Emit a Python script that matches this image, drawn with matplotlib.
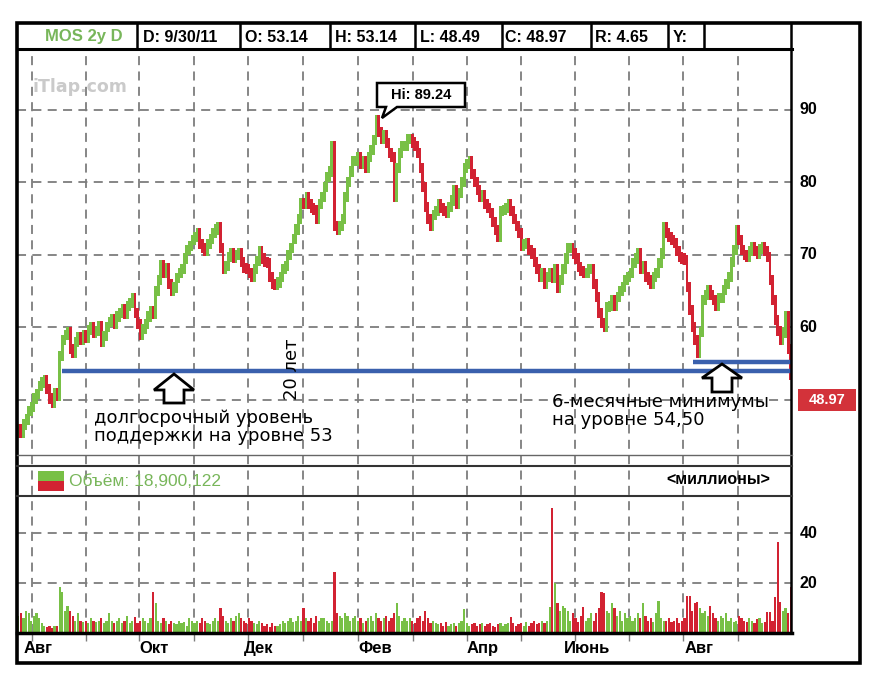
import matplotlib.pyplot as plt
from matplotlib.patches import Rectangle, Polygon
import numpy as np

# ---- data (daily bars, Aug 2010 - Sep 2011) ----
first_open = 45.5
close = [
    46.0, 45.4, 46.6, 47.3, 48.5, 49.0, 50.2, 50.8, 51.9, 52.4,
    52.8, 51.5, 50.2, 49.6, 50.9, 50.5, 56.0, 58.3, 58.9, 59.4,
    57.0, 56.5, 58.0, 58.6, 58.3, 59.0, 58.5, 59.7, 60.0, 59.2,
    59.5, 60.2, 58.0, 58.8, 60.0, 60.7, 61.2, 60.5, 61.5, 62.0,
    62.5, 61.8, 63.0, 63.4, 64.0, 62.0, 60.5, 59.0, 59.8, 60.5,
    61.5, 62.2, 61.8, 65.0, 66.5, 68.6, 67.5, 68.2, 66.0, 65.0,
    65.5, 66.8, 67.5, 68.0, 69.5, 70.7, 71.2, 72.0, 72.5, 73.0,
    71.5, 71.0, 70.5, 71.5, 72.2, 73.0, 73.5, 73.9, 71.0, 68.0,
    68.5, 69.7, 70.2, 69.6, 70.0, 70.3, 69.0, 68.2, 68.0, 67.5,
    67.0, 68.0, 69.2, 70.5, 69.5, 69.0, 68.9, 67.0, 66.0, 65.8,
    66.2, 67.0, 68.0, 68.5, 70.0, 71.0, 72.2, 73.5, 75.0, 77.2,
    77.0, 78.0, 77.0, 76.5, 76.2, 75.0, 77.0, 78.0, 79.4, 80.8,
    81.5, 85.0, 74.0, 73.5, 74.0, 75.0, 78.0, 80.0, 81.5, 83.0,
    83.0, 83.5, 82.5, 83.0, 82.0, 83.5, 84.5, 85.9, 88.6, 87.0,
    86.0, 86.5, 85.4, 84.0, 83.5, 78.0, 82.0, 84.0, 85.0, 85.0,
    86.0, 86.0, 85.5, 85.0, 84.0, 82.0, 79.4, 76.6, 75.0, 74.0,
    75.5, 76.0, 77.0, 76.5, 76.0, 75.8, 76.6, 77.5, 79.0, 77.0,
    78.5, 80.0, 82.0, 82.5, 83.0, 81.2, 80.0, 79.0, 78.0, 78.2,
    77.0, 76.5, 75.8, 74.5, 73.4, 72.5, 76.0, 76.2, 76.5, 77.0,
    76.0, 75.0, 74.0, 73.0, 71.2, 71.5, 71.6, 70.7, 70.2, 69.0,
    68.0, 67.0, 67.5, 66.0, 67.0, 67.5, 66.8, 68.0, 65.5, 66.5,
    68.0, 69.5, 71.0, 71.0, 70.2, 69.5, 68.3, 67.8, 67.5, 67.5,
    68.0, 68.0, 66.0, 64.2, 62.0, 60.6, 60.0, 62.8, 63.0, 63.8,
    63.0, 64.2, 65.0, 65.6, 66.5, 67.0, 67.5, 68.9, 69.5, 70.2,
    68.0, 68.5, 67.0, 66.5, 66.0, 67.0, 67.5, 68.9, 70.2, 73.9,
    73.0, 72.5, 72.0, 71.6, 70.5, 69.7, 69.5, 69.3, 65.6, 62.4,
    60.0, 58.3, 56.5, 59.4, 63.8, 64.5, 65.2, 64.5, 63.8, 63.0,
    64.0, 64.0, 65.2, 66.0, 67.0, 69.0, 70.7, 73.4, 72.0, 70.7,
    70.0, 69.7, 70.5, 71.1, 70.5, 70.2, 70.8, 71.1, 70.5, 69.7,
    66.5, 63.8, 61.0, 59.5, 58.3, 59.3, 61.5, 57.0, 53.5,
]
volume = [
    7, 8, 6, 9, 8, 5, 7, 8, 6, 4,
    3, 2.5, 3, 2, 3, 3, 18.5, 16.5, 9, 11,
    9, 7, 5, 8, 5, 4.5, 5, 4, 6, 5,
    4.5, 5, 6, 4, 5, 8, 5, 4, 5, 6,
    4, 5, 7, 4, 5, 6.5, 4, 5, 6, 5,
    4, 6, 16.5, 12, 5, 4, 6, 5, 3.5, 5,
    4, 3.5, 5, 4, 4.5, 3, 6, 5, 4, 5,
    4, 6, 5, 4, 3.5, 5, 6, 5, 10, 7,
    5, 4, 6, 5, 7, 8, 6, 5, 4, 6,
    5, 4, 3.5, 5, 4, 3, 3.5, 2.5, 4, 3,
    3, 3.5, 5, 4, 5, 6, 4.5, 5, 7, 5,
    10, 6, 5, 6, 4, 7, 5, 6, 6, 5,
    4, 5, 24.5, 8, 7, 6, 8, 7, 5, 6,
    7, 5, 6, 4, 5, 6, 7, 5, 8, 6,
    5, 6, 7, 5, 6, 8, 12, 7, 5, 6,
    5, 6, 5, 4, 6, 7, 5, 9, 6, 4,
    5, 4, 3.5, 4, 3, 4.5, 3, 3.5, 4, 3,
    4, 5, 9.5, 4, 3, 3.5, 4, 3, 3.5, 4,
    3, 3.5, 4, 3, 2.5, 3.5, 4, 3, 3.5, 4,
    6.5, 4, 3, 3.5, 4, 3, 4.5, 3, 4, 5,
    3.5, 4, 5, 4, 5, 10.5, 50, 20, 12, 9,
    11, 10, 9, 5, 8, 6, 4.5, 7, 10.5, 5,
    6, 8, 5, 8, 10, 16.5, 16, 9, 8, 12,
    10, 7, 9, 5, 8, 6, 7, 5, 6, 8,
    6, 12, 7, 5, 6, 4.5, 8, 13, 6, 5,
    5, 6, 4.5, 5, 6, 4, 5, 6, 15, 15,
    9, 12, 12.5, 10, 8, 9, 7, 11, 8, 6,
    5, 7, 6, 8, 5, 6, 4.5, 5, 7, 6,
    5, 4.5, 6, 5, 4, 5.5, 6, 4, 4.5, 8.5,
    8.5, 5, 14.5, 36.6, 12.5, 9, 10, 8, 18.5,
]
month_pos = [5.3, 26.1, 46.6, 67.8, 88.6, 109.8, 131.1, 152.3, 173.1,
             193.9, 214.8, 235.6, 256.4, 277.7]
month_names = ['Авг', 'Окт', 'Дек', 'Фев', 'Апр', 'Июнь', 'Авг']
month_label_pos = [7.6, 52.4, 92.9, 137.6, 179.3, 219.4, 262.6]
price_ticks = [90, 80, 70, 60]
vol_ticks = [40, 20]
header_labels = ['MOS 2y D', 'D: 9/30/11', 'O: 53.14', 'H: 53.14', 'L: 48.49',
                 'C: 48.97', 'R: 4.65', 'Y:']
hi_value = 89.24
last_close = 48.97
volume_total = '18,900,122'
support_long = 54.0
support_6m = 55.2
support_6m_start = 260.3

GREEN = '#78c046'
RED = '#d22232'
GRID = '#7d7d7d'
BLUE = '#3a60ad'

W, H = 880, 682
fig = plt.figure(figsize=(8.8, 6.82), dpi=100)


def add_ax(x0, y0, x1, y1, z=1):
    a = fig.add_axes([x0 / W, 1 - y1 / H, (x1 - x0) / W, (y1 - y0) / H])
    a.set_zorder(z)
    a.patch.set_alpha(0)
    a.axis('off')
    return a


n = len(close)
x = np.arange(n)
opens = np.array([first_open] + close[:-1])
closes = np.array(close)
cols = [GREEN if c >= o else RED for o, c in zip(opens, closes)]
XL = (-0.5, n - 0.5)

# background with the monthly vertical grid (runs through all panels)
bg = add_ax(17, 49, 792, 633, z=0)
bg.set_xlim(XL)
bg.set_ylim(0, 1)
bg.vlines(month_pos, 0, 1, colors=GRID, linewidth=1.3, linestyles=(0, (5, 3.5)))

# price panel
ax = add_ax(17, 49, 792, 455, z=2)
ax.set_xlim(XL)
ax.set_ylim(42.4, 98.4)
ax.hlines(price_ticks + [50], XL[0], XL[1], colors=GRID, linewidth=1.3,
          linestyles=(0, (5, 3.5)))
bot = np.minimum(opens, closes) - 0.7
hgt = np.abs(closes - opens) + 1.4
ax.bar(x, hgt, bottom=bot, width=1.1, color=cols, linewidth=0, zorder=3)
ax.hlines(support_long, 16.9, XL[1], colors=BLUE, linewidth=3.2, zorder=4)
ax.hlines(support_6m, support_6m_start, XL[1], colors=BLUE, linewidth=3.2, zorder=4)
for t in price_ticks:
    ax.text(1.01, t, str(t), transform=ax.get_yaxis_transform(), ha='left',
            va='center', fontsize=11.5, fontweight='bold', family='Liberation Sans')

# volume panel
vax = add_ax(17, 496, 792, 633, z=2)
vax.set_xlim(XL)
vax.set_ylim(0, 54.8)
vax.hlines(vol_ticks, XL[0], XL[1], colors=GRID, linewidth=1.3,
           linestyles=(0, (5, 3.5)))
vax.bar(x, volume, width=0.85, color=cols, linewidth=0, zorder=3)
for t in vol_ticks:
    vax.text(1.01, t, str(t), transform=vax.get_yaxis_transform(), ha='left',
             va='center', fontsize=11.5, fontweight='bold', family='Liberation Sans')
for p, m in zip(month_label_pos, month_names):
    vax.text(p, -0.11, m, transform=vax.get_xaxis_transform(), ha='center',
             va='center', fontsize=12, fontweight='bold', family='Liberation Sans')
vax.vlines(month_pos, -0.06, 0, colors=GRID, linewidth=1.0,
           transform=vax.get_xaxis_transform(), clip_on=False)

# overlay in pixel coordinates: frame, header, annotations
ov = fig.add_axes([0, 0, 1, 1])
ov.set_zorder(5)
ov.patch.set_alpha(0)
ov.axis('off')
ov.set_xlim(0, W)
ov.set_ylim(H, 0)

ov.add_patch(Rectangle((17, 23), 843, 640, fill=False, lw=2.6, ec='black'))
ov.plot([17, 792], [49, 49], color='black', lw=2.2)
for hx in [137, 240, 330, 415, 502, 591, 668, 704]:
    ov.plot([hx, hx], [23, 49], color='black', lw=1.8)
ov.plot([791, 791], [23, 633], color='black', lw=1.8)
ov.plot([17, 792], [455, 455], color='#666666', lw=1.0)
ov.plot([17, 792], [466, 466], color='#333333', lw=1.5)
ov.plot([17, 792], [496, 496], color='#333333', lw=1.5)
ov.plot([17, 792], [633, 633], color='black', lw=2.5)

hdr_x = [84, 143, 245, 335, 420, 505, 595, 673]
for i, (hx, lab) in enumerate(zip(hdr_x, header_labels)):
    ov.text(hx, 37, lab, ha='center' if i == 0 else 'left', va='center',
            fontsize=12 if i == 0 else 11.5, fontweight='bold',
            family='Liberation Sans', color='#78b65a' if i == 0 else 'black')

ov.text(32, 87, 'iTlap.com', ha='left', va='center', fontsize=12.5,
        fontweight='bold', color='#cacaca', family='DejaVu Sans')

# Hi callout
ov.add_patch(Polygon([(377, 83), (465, 83), (465, 107), (397, 107), (382, 118),
                      (386, 107), (377, 107)], closed=True, fc='white', ec='black',
                     lw=1.8, zorder=6))
ov.text(421, 95, f'Hi: {hi_value:.2f}', ha='center', va='center', fontsize=10.5,
        fontweight='bold', family='Liberation Sans', zorder=7)

# last price box
ov.add_patch(Rectangle((798, 389), 58, 22, fc='#d3323a', ec='none'))
ov.text(827, 400, f'{last_close:.2f}', ha='center', va='center', fontsize=10.5,
        fontweight='bold', color='white', family='Liberation Sans')


def up_arrow(cx, top, base, bottom):
    pts = [(cx, top), (cx + 20, base), (cx + 10, base), (cx + 10, bottom),
           (cx - 10, bottom), (cx - 10, base), (cx - 20, base)]
    ov.add_patch(Polygon(pts, closed=True, fc='white', ec='black', lw=2.0, zorder=6))


up_arrow(174, 374, 390, 403)
up_arrow(722, 364, 378, 392)

txt_kw = dict(fontsize=13, family='DejaVu Sans', color='black', linespacing=1.0)
ov.text(94, 409, 'долгосрочный уровень\nподдержки на уровне 53', ha='left',
        va='top', **txt_kw)
ov.text(552, 393, '6-месячные минимумы\nна уровне 54,50', ha='left', va='top',
        **txt_kw)
ov.text(292, 369, '20 лет', rotation=90, ha='center', va='center', **txt_kw)

# volume legend
ov.add_patch(Rectangle((38, 471), 26, 10, fc=GREEN, ec='none'))
ov.add_patch(Rectangle((38, 481), 26, 10, fc=RED, ec='none'))
ov.text(69, 481, f'Объём: {volume_total}', ha='left', va='center', fontsize=12.5,
        color='#78b65a', family='Liberation Sans')
ov.text(770, 480, '<миллионы>', ha='right', va='center', fontsize=11.5,
        fontweight='bold', family='Liberation Sans')

fig.savefig('out.png', dpi=100)
